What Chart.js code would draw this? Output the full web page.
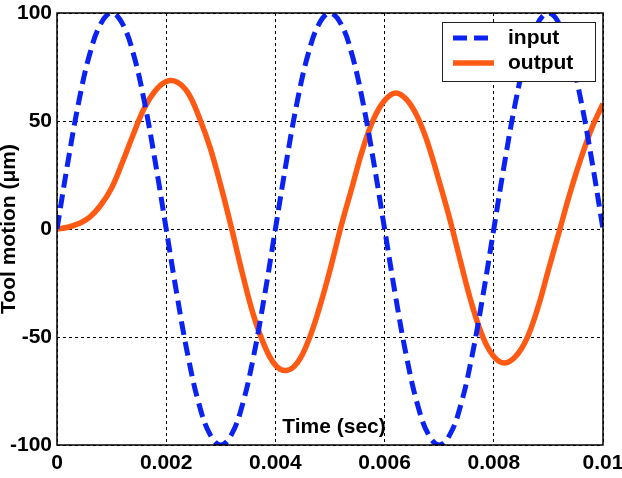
<!DOCTYPE html>
<html>
<head>
<meta charset="utf-8">
<script src="https://cdn.jsdelivr.net/npm/chart.js@4.4.0/dist/chart.umd.min.js"></script>
<style>
  html, body { margin: 0; padding: 0; background: #fff; }
  #wrap { width: 622px; height: 478px; }
</style>
</head>
<body>
<div id="wrap"><canvas id="motionChart" width="622" height="478"></canvas></div>
<script>
// Time samples (sec), every 0.0002 s
const times = [
    0, 0.0002, 0.0004, 0.0006, 0.0008, 0.001, 0.0012, 0.0014, 0.0016, 0.0018,
    0.002, 0.0022, 0.0024, 0.0026, 0.0028, 0.003, 0.0032, 0.0034, 0.0036, 0.0038,
    0.004, 0.0042, 0.0044, 0.0046, 0.0048, 0.005, 0.0052, 0.0054, 0.0056, 0.0058,
    0.006, 0.0062, 0.0064, 0.0066, 0.0068, 0.007, 0.0072, 0.0074, 0.0076, 0.0078,
    0.008, 0.0082, 0.0084, 0.0086, 0.0088, 0.009, 0.0092, 0.0094, 0.0096, 0.0098,
    0.01
];

// Tool motion (um)
const inputMotion = [
    0, 31, 59, 81, 95, 100, 95, 81, 59, 31,
    0, -31, -59, -81, -95, -100, -95, -81, -59, -31,
    0, 31, 59, 81, 95, 100, 95, 81, 59, 31,
    0, -31, -59, -81, -95, -100, -95, -81, -59, -31,
    0, 31, 59, 81, 95, 100, 95, 81, 59, 31,
    0
];
const outputMotion = [
    0, 0.8, 2.5, 5.5, 11, 19, 31, 44, 56, 64,
    68.3, 68, 63, 52, 38, 20, 0, -21, -40, -54,
    -63, -65.5, -62, -52, -37, -19, 1, 19, 37, 51,
    59.5, 63, 60, 52, 39, 22, 4, -16, -35, -50,
    -59, -62, -59, -51, -37, -19, -1, 17, 33, 47,
    58
];

const xTicks = [0, 0.002, 0.004, 0.006, 0.008, 0.01];
const xTickLabels = ['0', '0.002', '0.004', '0.006', '0.008', '0.01'];
const yTicks = [-100, -50, 0, 50, 100];
const yTickLabels = ['-100', '-50', '0', '50', '100'];

const labelFont = { family: 'Arial, "Liberation Sans", sans-serif', size: 21, weight: 'bold' };

// box, axis titles and legend in the MATLAB style
const matlabDecor = {
    id: 'matlabDecor',
    afterDraw(chart) {
        const { ctx, chartArea: a } = chart;
        ctx.save();
        ctx.strokeStyle = '#000';
        ctx.lineWidth = 1.5;
        ctx.setLineDash([]);
        ctx.strokeRect(a.left, a.top, a.right - a.left, a.bottom - a.top);

        ctx.fillStyle = '#000';
        ctx.font = 'bold 21px Arial, "Liberation Sans", sans-serif';
        ctx.textAlign = 'center';
        ctx.textBaseline = 'middle';
        ctx.fillText('Time (sec)', 334, 427);

        ctx.save();
        ctx.translate(9, 229);
        ctx.rotate(-Math.PI / 2);
        ctx.fillText('Tool motion (\u03bcm)', 0, 0);
        ctx.restore();

        // legend
        const bx = 442, by = 22, bw = 153, bh = 59;
        ctx.fillStyle = '#fff';
        ctx.fillRect(bx, by, bw, bh);
        ctx.strokeStyle = '#222';
        ctx.lineWidth = 1;
        ctx.strokeRect(bx + 0.5, by + 0.5, bw, bh);
        chart.data.datasets.forEach((ds, i) => {
            const y = 38 + i * 25;
            ctx.beginPath();
            ctx.strokeStyle = ds.borderColor;
            ctx.lineWidth = ds.borderWidth;
            ctx.setLineDash(ds.borderDash || []);
            ctx.moveTo(453, y);
            ctx.lineTo(494, y);
            ctx.stroke();
            ctx.setLineDash([]);
            ctx.fillStyle = '#000';
            ctx.textAlign = 'left';
            ctx.fillText(ds.label, 508, y);
        });
        ctx.restore();
    }
};

const ctx = document.getElementById('motionChart').getContext('2d');
new Chart(ctx, {
    type: 'line',
    data: {
        datasets: [{
            label: 'input',
            data: times.map((t, i) => ({ x: t, y: inputMotion[i] })),
            borderColor: '#0A22F2',
            borderWidth: 5,
            borderDash: [14, 7],
            pointRadius: 0,
            tension: 0.4,
            fill: false
        }, {
            label: 'output',
            data: times.map((t, i) => ({ x: t, y: outputMotion[i] })),
            borderColor: '#FF5A14',
            borderWidth: 5.5,
            pointRadius: 0,
            tension: 0.4,
            fill: false
        }]
    },
    options: {
        responsive: false,
        animation: false,
        layout: {
            padding: { top: 13, right: 19, left: 0, bottom: 0 }
        },
        plugins: {
            legend: { display: false },
            tooltip: { enabled: false }
        },
        scales: {
            x: {
                type: 'linear',
                min: 0,
                max: 0.01,
                afterFit: (scale) => {
                    scale.height = 33;
                    scale.paddingLeft = 0;
                    scale.paddingRight = 0;
                },
                afterBuildTicks: (scale) => {
                    scale.ticks = xTicks.map(v => ({ value: v }));
                },
                ticks: {
                    color: '#000',
                    font: labelFont,
                    padding: 6,
                    maxRotation: 0,
                    autoSkip: false,
                    callback: function (value) {
                        const i = xTicks.indexOf(value);
                        return i >= 0 ? xTickLabels[i] : '';
                    }
                },
                grid: {
                    color: '#000',
                    lineWidth: 1,
                    drawTicks: false
                },
                border: { display: false, dash: [3, 3] }
            },
            y: {
                min: -100,
                max: 100,
                afterFit: (scale) => {
                    scale.width = 57;
                    scale.paddingTop = 0;
                    scale.paddingBottom = 0;
                },
                afterBuildTicks: (scale) => {
                    scale.ticks = yTicks.map(v => ({ value: v }));
                },
                ticks: {
                    color: '#000',
                    font: labelFont,
                    padding: 5,
                    autoSkip: false,
                    callback: function (value) {
                        const i = yTicks.indexOf(value);
                        return i >= 0 ? yTickLabels[i] : '';
                    }
                },
                grid: {
                    color: '#000',
                    lineWidth: 1,
                    drawTicks: false
                },
                border: { display: false, dash: [3, 3] }
            }
        }
    },
    plugins: [matlabDecor]
});
</script>
</body>
</html>
